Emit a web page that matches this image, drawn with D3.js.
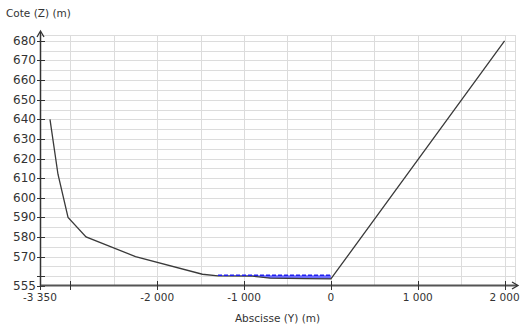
<!DOCTYPE html>
<html>
<head>
<meta charset="utf-8">
<script src="https://cdn.jsdelivr.net/npm/d3@7"></script>
<style>
  body { margin: 0; background: #fff; }
  text { font-family: "DejaVu Sans", sans-serif; font-size: 10.5px; fill: #333; }
</style>
</head>
<body>
<div id="app"></div>
<script>
// profil en travers (abscisse Y, cote Z)
const profileY = [-3235, -3143, -3027, -2820, -2250, -1480, -1300, -900, -700, -300, 0, 2000];
const profileZ = [640, 612, 590, 580, 570, 561, 560.2, 560, 559, 558.8, 558.6, 680];

// ligne d'eau
const waterY = [-1300, 0];
const waterZ = [560.5, 560.5];

const xTicks = [-3350, -2000, -1000, 0, 1000, 2000];
const xMinorTicks = [-3000];
const yTicks = [555, 570, 580, 590, 600, 610, 620, 630, 640, 650, 660, 670, 680];
const yMinorTicks = [560];

const W = 520, H = 329;
const pLeft = 40, pRight = 515, pTop = 35, pBottom = 286;

const fr = d3.formatLocale({ decimal: ",", thousands: "\u00a0", grouping: [3], currency: ["", " €"], minus: "-" });
const fmt = fr.format(",d");

const x = d3.scaleLinear().domain([-3350, 2120]).range([pLeft, pRight]);
const y = d3.scaleLinear().domain([555, 683]).range([pBottom, pTop]);

const svg = d3.select("#app").append("svg")
  .attr("width", W).attr("height", H);

// grille
const grid = svg.append("g").attr("stroke", "#dcdcdc").attr("stroke-width", 1);
grid.selectAll("line.h")
  .data(d3.range(560, 685, 5))
  .enter().append("line")
  .attr("x1", pLeft).attr("x2", pRight)
  .attr("y1", d => Math.round(y(d)) + 0.5).attr("y2", d => Math.round(y(d)) + 0.5);
grid.selectAll("line.v")
  .data(d3.range(-3000, 2001, 500))
  .enter().append("line")
  .attr("y1", pTop).attr("y2", pBottom)
  .attr("x1", d => Math.round(x(d)) + 0.5).attr("x2", d => Math.round(x(d)) + 0.5);
grid.append("line").attr("x1", pRight + 0.5).attr("x2", pRight + 0.5).attr("y1", pTop).attr("y2", pBottom);
grid.append("line").attr("x1", pLeft).attr("x2", pRight).attr("y1", pTop + 0.5).attr("y2", pTop + 0.5);

// zone en eau
const bottomAt = yy => {
  for (let i = 0; i < profileY.length - 1; i++) {
    if (yy >= profileY[i] && yy <= profileY[i + 1]) {
      const t = (yy - profileY[i]) / (profileY[i + 1] - profileY[i]);
      return profileZ[i] + t * (profileZ[i + 1] - profileZ[i]);
    }
  }
  return profileZ[profileZ.length - 1];
};
const wetY = profileY.filter(v => v > waterY[0] && v < waterY[1]);
const wetTop = [waterY[0], ...wetY, waterY[1]];
const area = d3.area()
  .x(d => x(d))
  .y0(d => y(bottomAt(d)))
  .y1(d => y(waterZ[0]));
svg.append("path").datum(wetTop)
  .attr("d", area)
  .attr("fill", "#6b6bff");

// profil
const line = d3.line().x((d, i) => x(profileY[i])).y(d => y(d));
svg.append("path").datum(profileZ)
  .attr("d", line)
  .attr("fill", "none")
  .attr("stroke", "#3a3a3a")
  .attr("stroke-width", 1.3);

// ligne d'eau pointillée
svg.append("path").datum(waterZ)
  .attr("d", d3.line().x((d, i) => x(waterY[i])).y(d => y(d)))
  .attr("fill", "none")
  .attr("stroke", "#2020ee")
  .attr("stroke-width", 1.5)
  .attr("stroke-dasharray", "4,2");

// axe Y
const axisY = svg.append("g");
axisY.append("line")
  .attr("x1", pLeft + 0.5).attr("x2", pLeft + 0.5)
  .attr("y1", pBottom).attr("y2", pTop - 3)
  .attr("stroke", "#333").attr("stroke-width", 1.5);
axisY.append("path")
  .attr("d", `M${pLeft - 3},${pTop + 2} L${pLeft + 0.5},${pTop - 4} L${pLeft + 4},${pTop + 2}`)
  .attr("fill", "none").attr("stroke", "#333").attr("stroke-width", 1.3);
axisY.selectAll("line.t")
  .data(yTicks.concat(yMinorTicks))
  .enter().append("line")
  .attr("x1", pLeft - 3).attr("x2", pLeft + 5)
  .attr("y1", d => Math.round(y(d)) + 0.5).attr("y2", d => Math.round(y(d)) + 0.5)
  .attr("stroke", "#333");
axisY.selectAll("text")
  .data(yTicks)
  .enter().append("text")
  .attr("x", pLeft - 4)
  .attr("y", d => y(d) + 4)
  .attr("text-anchor", "end")
  .style("font-size", "12px")
  .text(d => d);

// axe X
const axisX = svg.append("g");
axisX.append("line")
  .attr("x1", pLeft).attr("x2", pRight + 2)
  .attr("y1", pBottom - 0.5).attr("y2", pBottom - 0.5)
  .attr("stroke", "#555").attr("stroke-width", 2);
axisX.append("path")
  .attr("d", `M${pRight - 3},${pBottom - 4} L${pRight + 3},${pBottom - 0.5} L${pRight - 3},${pBottom + 3}`)
  .attr("fill", "none").attr("stroke", "#333").attr("stroke-width", 1.3);
axisX.selectAll("line.t")
  .data(xTicks.concat(xMinorTicks))
  .enter().append("line")
  .attr("y1", pBottom - 5).attr("y2", pBottom + 4)
  .attr("x1", d => Math.round(x(d)) + 0.5).attr("x2", d => Math.round(x(d)) + 0.5)
  .attr("stroke", "#333");
axisX.selectAll("text")
  .data(xTicks)
  .enter().append("text")
  .attr("x", d => x(d))
  .attr("y", pBottom + 15)
  .attr("text-anchor", "middle")
  .text(d => fmt(d));

svg.append("text").attr("x", 6).attr("y", 17).text("Cote (Z) (m)");
svg.append("text").attr("x", (pLeft + pRight) / 2).attr("y", 322)
  .attr("text-anchor", "middle").text("Abscisse (Y) (m)");
</script>
</body>
</html>
